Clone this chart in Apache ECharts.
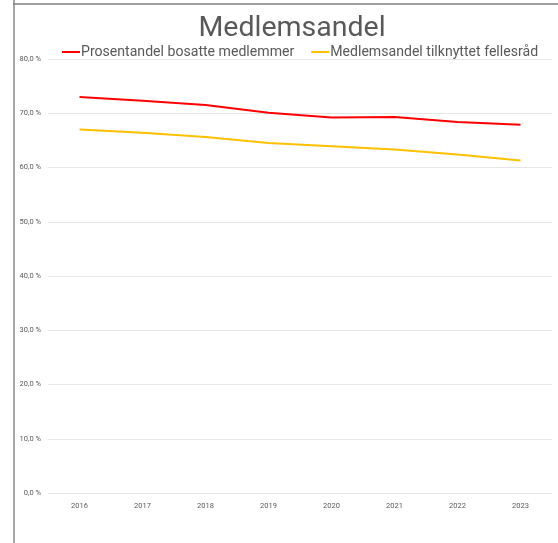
<!DOCTYPE html>
<html>
<head>
<meta charset="utf-8">
<script src="https://cdn.jsdelivr.net/npm/echarts@6/dist/echarts.min.js"></script>
<style>html,body{margin:0;padding:0;background:#fff}#c{width:558px;height:543px}</style>
</head>
<body>
<div id="c"></div>
<script>
const categories = ['2016','2017','2018','2019','2020','2021','2022','2023'];
const bosatte = [73.0, 72.3, 71.5, 70.1, 69.2, 69.3, 68.4, 67.9];
const fellesrad = [67.0, 66.4, 65.6, 64.5, 63.9, 63.3, 62.4, 61.3];
const yTicks = { min: 0, max: 80, interval: 10 };

const chart = echarts.init(document.getElementById('c'));
chart.setOption({
  animation: false,
  backgroundColor: '#fff',
  title: {
    text: 'Medlemsandel',
    left: 287, textAlign: 'center', top: 9,
    textStyle: { fontFamily: 'Roboto', fontSize: 28.5, fontWeight: 'normal', color: '#595959' }
  },
  legend: {
    top: 45, left: 62, width: 500, padding: 0,
    itemWidth: 18, itemHeight: 2, itemGap: 17,
    icon: 'rect',
    textStyle: { fontFamily: 'Roboto', fontSize: 14.1, color: '#595959', padding: [0,0,0,-4] },
    data: ['Prosentandel bosatte medlemmer', 'Medlemsandel tilknyttet fellesråd']
  },
  graphic: [
    { type: 'line', shape: { x1: 14, y1: 0, x2: 14, y2: 543 }, style: { stroke: '#a6a6a6', lineWidth: 2 } },
    { type: 'line', shape: { x1: 13, y1: 4, x2: 558, y2: 4 }, style: { stroke: '#7f7f7f', lineWidth: 1.5 } }
  ],
  grid: { left: 48, right: 6, top: 59, bottom: 50 },
  xAxis: {
    type: 'category', data: categories, boundaryGap: true,
    axisLine: { show: false }, axisTick: { show: false },
    axisLabel: { fontFamily: 'Roboto', fontSize: 7.5, color: '#595959', margin: 9 }
  },
  yAxis: {
    type: 'value', min: yTicks.min, max: yTicks.max, interval: yTicks.interval,
    axisLine: { show: false }, axisTick: { show: false },
    axisLabel: { fontFamily: 'Roboto', fontSize: 7.5, color: '#595959', margin: 7,
      formatter: v => v.toFixed(1).replace('.', ',') + ' %' },
    splitLine: { lineStyle: { color: '#e6e6e6', width: 1 } }
  },
  series: [
    { name: 'Prosentandel bosatte medlemmer', type: 'line', data: bosatte, symbol: 'none',
      color: '#ff0000', lineStyle: { width: 2, color: '#ff0000' } },
    { name: 'Medlemsandel tilknyttet fellesråd', type: 'line', data: fellesrad, symbol: 'none',
      color: '#ffc000', lineStyle: { width: 2, color: '#ffc000' } }
  ]
});
</script>
</body>
</html>
